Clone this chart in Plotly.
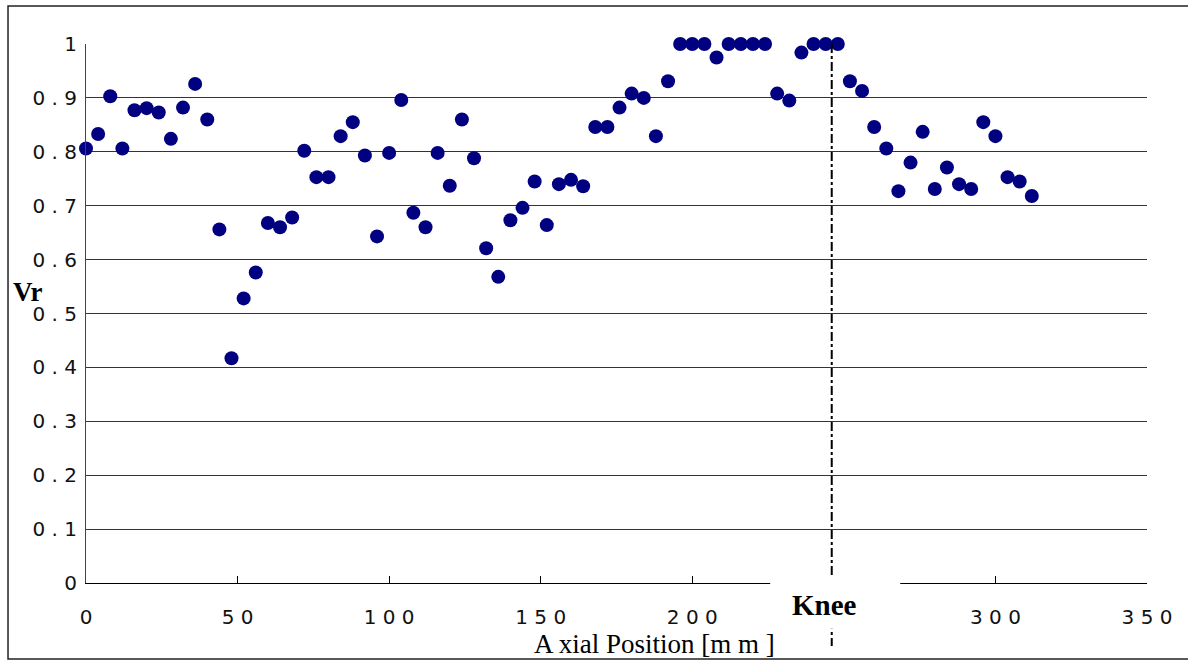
import plotly.graph_objects as go

# ---- data ----
axial_position = list(range(0, 316, 4))  # mm
vr = [0.806, 0.833, 0.903, 0.806, 0.877, 0.881, 0.873, 0.824, 0.882, 0.926,
      0.860, 0.656, 0.417, 0.528, 0.576, 0.668, 0.660, 0.678, 0.802, 0.753,
      0.753, 0.829, 0.855, 0.793, 0.643, 0.798, 0.896, 0.687, 0.660, 0.798,
      0.737, 0.860, 0.788, 0.621, 0.568, 0.673, 0.696, 0.745, 0.664, 0.740,
      0.748, 0.736, 0.846, 0.846, 0.882, 0.908, 0.900, 0.829, 0.931, 1.000,
      1.000, 1.000, 0.975, 1.000, 1.000, 1.000, 1.000, 0.908, 0.895, 0.984,
      1.000, 1.000, 1.000, 0.931, 0.913, 0.846, 0.806, 0.727, 0.780, 0.837,
      0.731, 0.771, 0.740, 0.731, 0.855, 0.829, 0.753, 0.745, 0.718]
knee_x = 246

x_tickvals = [0, 50, 100, 150, 200, 300, 350]
x_ticktext = ["0", "5 0", "1 0 0", "1 5 0", "2 0 0", "3 0 0", "3 5 0"]
y_tickvals = [0, 0.1, 0.2, 0.3, 0.4, 0.5, 0.6, 0.7, 0.8, 0.9, 1.0]
y_ticktext = ["0", "0 . 1", "0 . 2", "0 . 3", "0 . 4", "0 . 5", "0 . 6",
              "0 . 7", "0 . 8", "0 . 9", "1"]

fig = go.Figure()
fig.add_trace(go.Scatter(
    x=axial_position, y=vr, mode="markers",
    marker=dict(color="#000080", size=14, line=dict(width=0)),
    cliponaxis=False, showlegend=False,
))

tick_font = dict(family="DejaVu Sans", size=20, color="#111111")

fig.update_layout(
    width=1188, height=661,
    margin=dict(l=86, r=41, t=44, b=78),
    paper_bgcolor="white", plot_bgcolor="white",
    xaxis=dict(
        range=[0, 350], tickvals=x_tickvals, ticktext=x_ticktext,
        ticks="inside", ticklen=7, tickcolor="black", tickwidth=1,
        showgrid=False, zeroline=False,
        showline=True, linecolor="black", linewidth=1,
        tickfont=tick_font, ticklabelstandoff=16,
    ),
    yaxis=dict(
        range=[0, 1], tickvals=y_tickvals, ticktext=y_ticktext,
        ticks="", showgrid=True, gridcolor="#333333", gridwidth=1,
        zeroline=False, showline=True, linecolor="#444444", linewidth=1,
        tickfont=tick_font, ticklabelstandoff=4,
    ),
)

shapes = []
# knee dash-dot line
shapes.append(dict(type="line", xref="x", yref="paper", x0=knee_x, x1=knee_x,
                   y0=1.0, y1=-0.117, line=dict(color="black", width=2, dash="dashdot"),
                   layer="above"))
# white box behind "Knee" label masking the axis
shapes.append(dict(type="rect", xref="x", yref="paper", x0=knee_x - 20.3, x1=knee_x + 22.6,
                   y0=-0.085, y1=0.011, fillcolor="white", line=dict(width=0),
                   layer="above"))
# outer frame
shapes.append(dict(type="rect", xref="paper", yref="paper",
                   x0=-0.0735, x1=1.045, y0=-0.141, y1=1.0705,
                   line=dict(color="#222222", width=1.5), fillcolor="rgba(0,0,0,0)",
                   layer="above"))
fig.update_layout(shapes=shapes)

fig.add_annotation(x=knee_x, xref="x", y=-0.041, yref="paper", text="<b>Knee</b>",
                   showarrow=False, xshift=-7, xanchor="center", yanchor="middle",
                   font=dict(family="Liberation Serif", size=29, color="black"))
fig.add_annotation(x=-0.0556, xref="paper", y=0.54, yref="paper", text="<b>Vr</b>",
                   showarrow=False, xanchor="center", yanchor="middle",
                   font=dict(family="Liberation Serif", size=27, color="black"))
fig.add_annotation(x=0.536, xref="paper", y=-0.114, yref="paper",
                   text="A xial Position [m m ]",
                   showarrow=False, xanchor="center", yanchor="middle",
                   font=dict(family="Liberation Serif", size=27, color="black"))

fig.write_html("out.html", config={"displayModeBar": False},
               post_script="document.body.style.margin='0';document.body.style.overflow='hidden';")
